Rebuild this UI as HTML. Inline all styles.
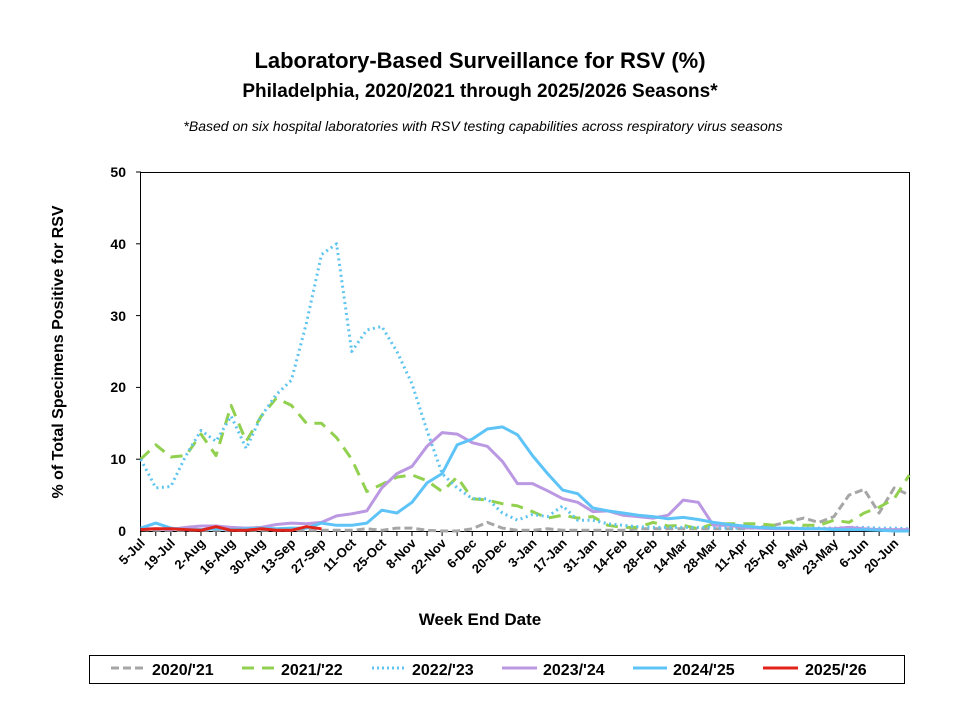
<!DOCTYPE html>
<html><head><meta charset="utf-8"><style>
html,body{margin:0;padding:0;background:#fff;}
svg{display:block;font-family:"Liberation Sans",Arial,sans-serif;}
</style></head><body>
<svg id="s" width="960" height="720" viewBox="0 0 960 720" xmlns="http://www.w3.org/2000/svg">
<rect width="960" height="720" fill="#fff"/>
<text x="480" y="68" text-anchor="middle" font-size="22" font-weight="bold">Laboratory-Based Surveillance for RSV (%)</text>
<text x="480" y="97" text-anchor="middle" font-size="19" font-weight="bold">Philadelphia, 2020/2021 through 2025/2026 Seasons*</text>
<text x="483" y="131" text-anchor="middle" font-size="14" font-style="italic">*Based on six hospital laboratories with RSV testing capabilities across respiratory virus seasons</text>
<rect x="140.5" y="172.5" width="769" height="359" fill="none" stroke="#000" stroke-width="1"/>
<g font-size="14" font-weight="bold" text-anchor="end">
<text x="126" y="536">0</text><text x="126" y="464">10</text><text x="126" y="392">20</text><text x="126" y="321">30</text><text x="126" y="249">40</text><text x="126" y="177">50</text>
</g>
<text transform="translate(63,352) rotate(-90)" text-anchor="middle" font-size="16" font-weight="bold">%  of Total Specimens Positive for RSV</text>
<text x="480" y="625" text-anchor="middle" font-size="17" font-weight="bold">Week End Date</text>
<g id="ticks"></g>
<g id="xl" font-size="13" font-weight="bold" text-anchor="end"></g>
<g id="lines" fill="none" stroke-linejoin="round"></g>
<rect x="89.5" y="655.5" width="815" height="28" fill="none" stroke="#000"/>
<g font-size="16" font-weight="bold">
<line x1="111" y1="668" x2="145" y2="668" stroke="#a6a6a6" stroke-width="3" stroke-dasharray="8,4"/><text x="152" y="675">2020/'21</text>
<line x1="242" y1="668" x2="274" y2="668" stroke="#92d050" stroke-width="3" stroke-dasharray="12,8"/><text x="281" y="675">2021/'22</text>
<line x1="372" y1="668" x2="406" y2="668" stroke="#5ec4f0" stroke-width="3" stroke-dasharray="2,3"/><text x="412" y="675">2022/'23</text>
<line x1="502" y1="668" x2="537" y2="668" stroke="#bb98e2" stroke-width="3"/><text x="543" y="675">2023/'24</text>
<line x1="633" y1="668" x2="667" y2="668" stroke="#5ec4f8" stroke-width="3"/><text x="673" y="675">2024/'25</text>
<line x1="763" y1="668" x2="798" y2="668" stroke="#e2231a" stroke-width="3"/><text x="805" y="675">2025/'26</text>
</g>
</svg>
<script>
const X=i=>140.7+15.07*i, Y=v=>531-7.18*v;
const labels=["5-Jul","19-Jul","2-Aug","16-Aug","30-Aug","13-Sep","27-Sep","11-Oct","25-Oct","8-Nov","22-Nov","6-Dec","20-Dec","3-Jan","17-Jan","31-Jan","14-Feb","28-Feb","14-Mar","28-Mar","11-Apr","25-Apr","9-May","23-May","6-Jun","20-Jun"];
let t="";
for(let i=0;i<=51;i++){t+=`<line x1="${X(i)}" y1="531" x2="${X(i)}" y2="536" stroke="#000"/>`;}
for(let i=1;i<=5;i++){t+=`<line x1="136" y1="${Y(i*10)}" x2="141" y2="${Y(i*10)}" stroke="#000"/>`;}
document.getElementById("ticks").innerHTML=t;
let xl="";
labels.forEach((l,k)=>{const x=X(2*k)+5,y=544;xl+=`<text transform="translate(${x},${y}) rotate(-45)">${l}</text>`;});
document.getElementById("xl").innerHTML=xl;
const S=[
["#a6a6a6","8,4",[0.2,0.1,0.1,0.1,0.1,0.1,0.1,0.1,0.1,0.1,0.1,0.1,0.1,0.1,0.1,0.3,0.1,0.4,0.4,0.1,0,0,0.3,1.2,0.4,0.1,0.1,0.3,0.1,0.1,0.1,0.1,0.1,0.3,0.3,0.3,0.3,0.3,0.3,0.3,0.3,0.5,0.8,1.3,1.8,1.2,2,5,5.8,2.5,6,5]],
["#92d050","12,8",[10,12,10.3,10.5,13.5,10.5,17.5,12.5,16,18.5,17.5,15,15,13,10,5.5,6.5,7.5,7.8,7,5.5,7.5,4.5,4.3,3.8,3.5,2.7,1.8,2.2,1.8,2,0.8,0.5,0.5,1.2,0.7,0.8,0.3,1,1,1,1,0.8,1.3,0.8,0.8,1.5,1.2,2.5,3.3,4.5,7.8]],
["#5ec4f0","2,3.5",[10,6,6.2,10.5,14,12.5,16,11.5,16,19,21,29,38.5,40,25,28,28.5,25,20.5,14,8,6,4.5,4.5,2.5,1.5,2.3,2,3.5,1.5,1.5,1,0.8,0.6,0.5,0.5,0.5,0.5,0.5,0.4,0.4,0.4,0.4,0.4,0.4,0.4,0.4,0.5,0.5,0.4,0.4,0.3]],
["#bb98e2","",[0.3,0.3,0.2,0.5,0.7,0.7,0.5,0.4,0.5,0.9,1.1,1,1.2,2.1,2.4,2.8,6,8,9,11.8,13.7,13.5,12.3,11.8,9.7,6.6,6.6,5.6,4.5,4,2.7,2.8,2.2,2,1.8,2.2,4.3,4,0.8,0.8,0.5,0.4,0.3,0.3,0.3,0.3,0.3,0.5,0.3,0.2,0.2,0.2]],
["#5ec4f8","",[0.4,1.1,0.4,0.2,0.2,0.3,0.2,0.3,0.4,0.3,0.4,0.4,1.1,0.8,0.8,1.1,2.9,2.5,4,6.7,8,12,12.8,14.2,14.5,13.4,10.5,8,5.7,5.2,3.2,2.8,2.5,2.2,2,1.7,1.9,1.6,1.2,0.9,0.7,0.5,0.4,0.4,0.3,0.3,0.2,0.2,0.2,0.1,0,0]],
["#e2231a","",[0.2,0.3,0.3,0.2,0.1,0.6,0.1,0.1,0.3,0.1,0.1,0.6,0.3]]
];
let h="";
S.forEach(([c,d,v])=>{const p=v.map((y,i)=>X(i).toFixed(1)+","+Y(y).toFixed(1)).join(" ");h+=`<polyline points="${p}" stroke="${c}" stroke-width="3" ${d?`stroke-dasharray="${d}"`:""}/>`;});
document.getElementById("lines").innerHTML=h;
</script>
</body></html>
